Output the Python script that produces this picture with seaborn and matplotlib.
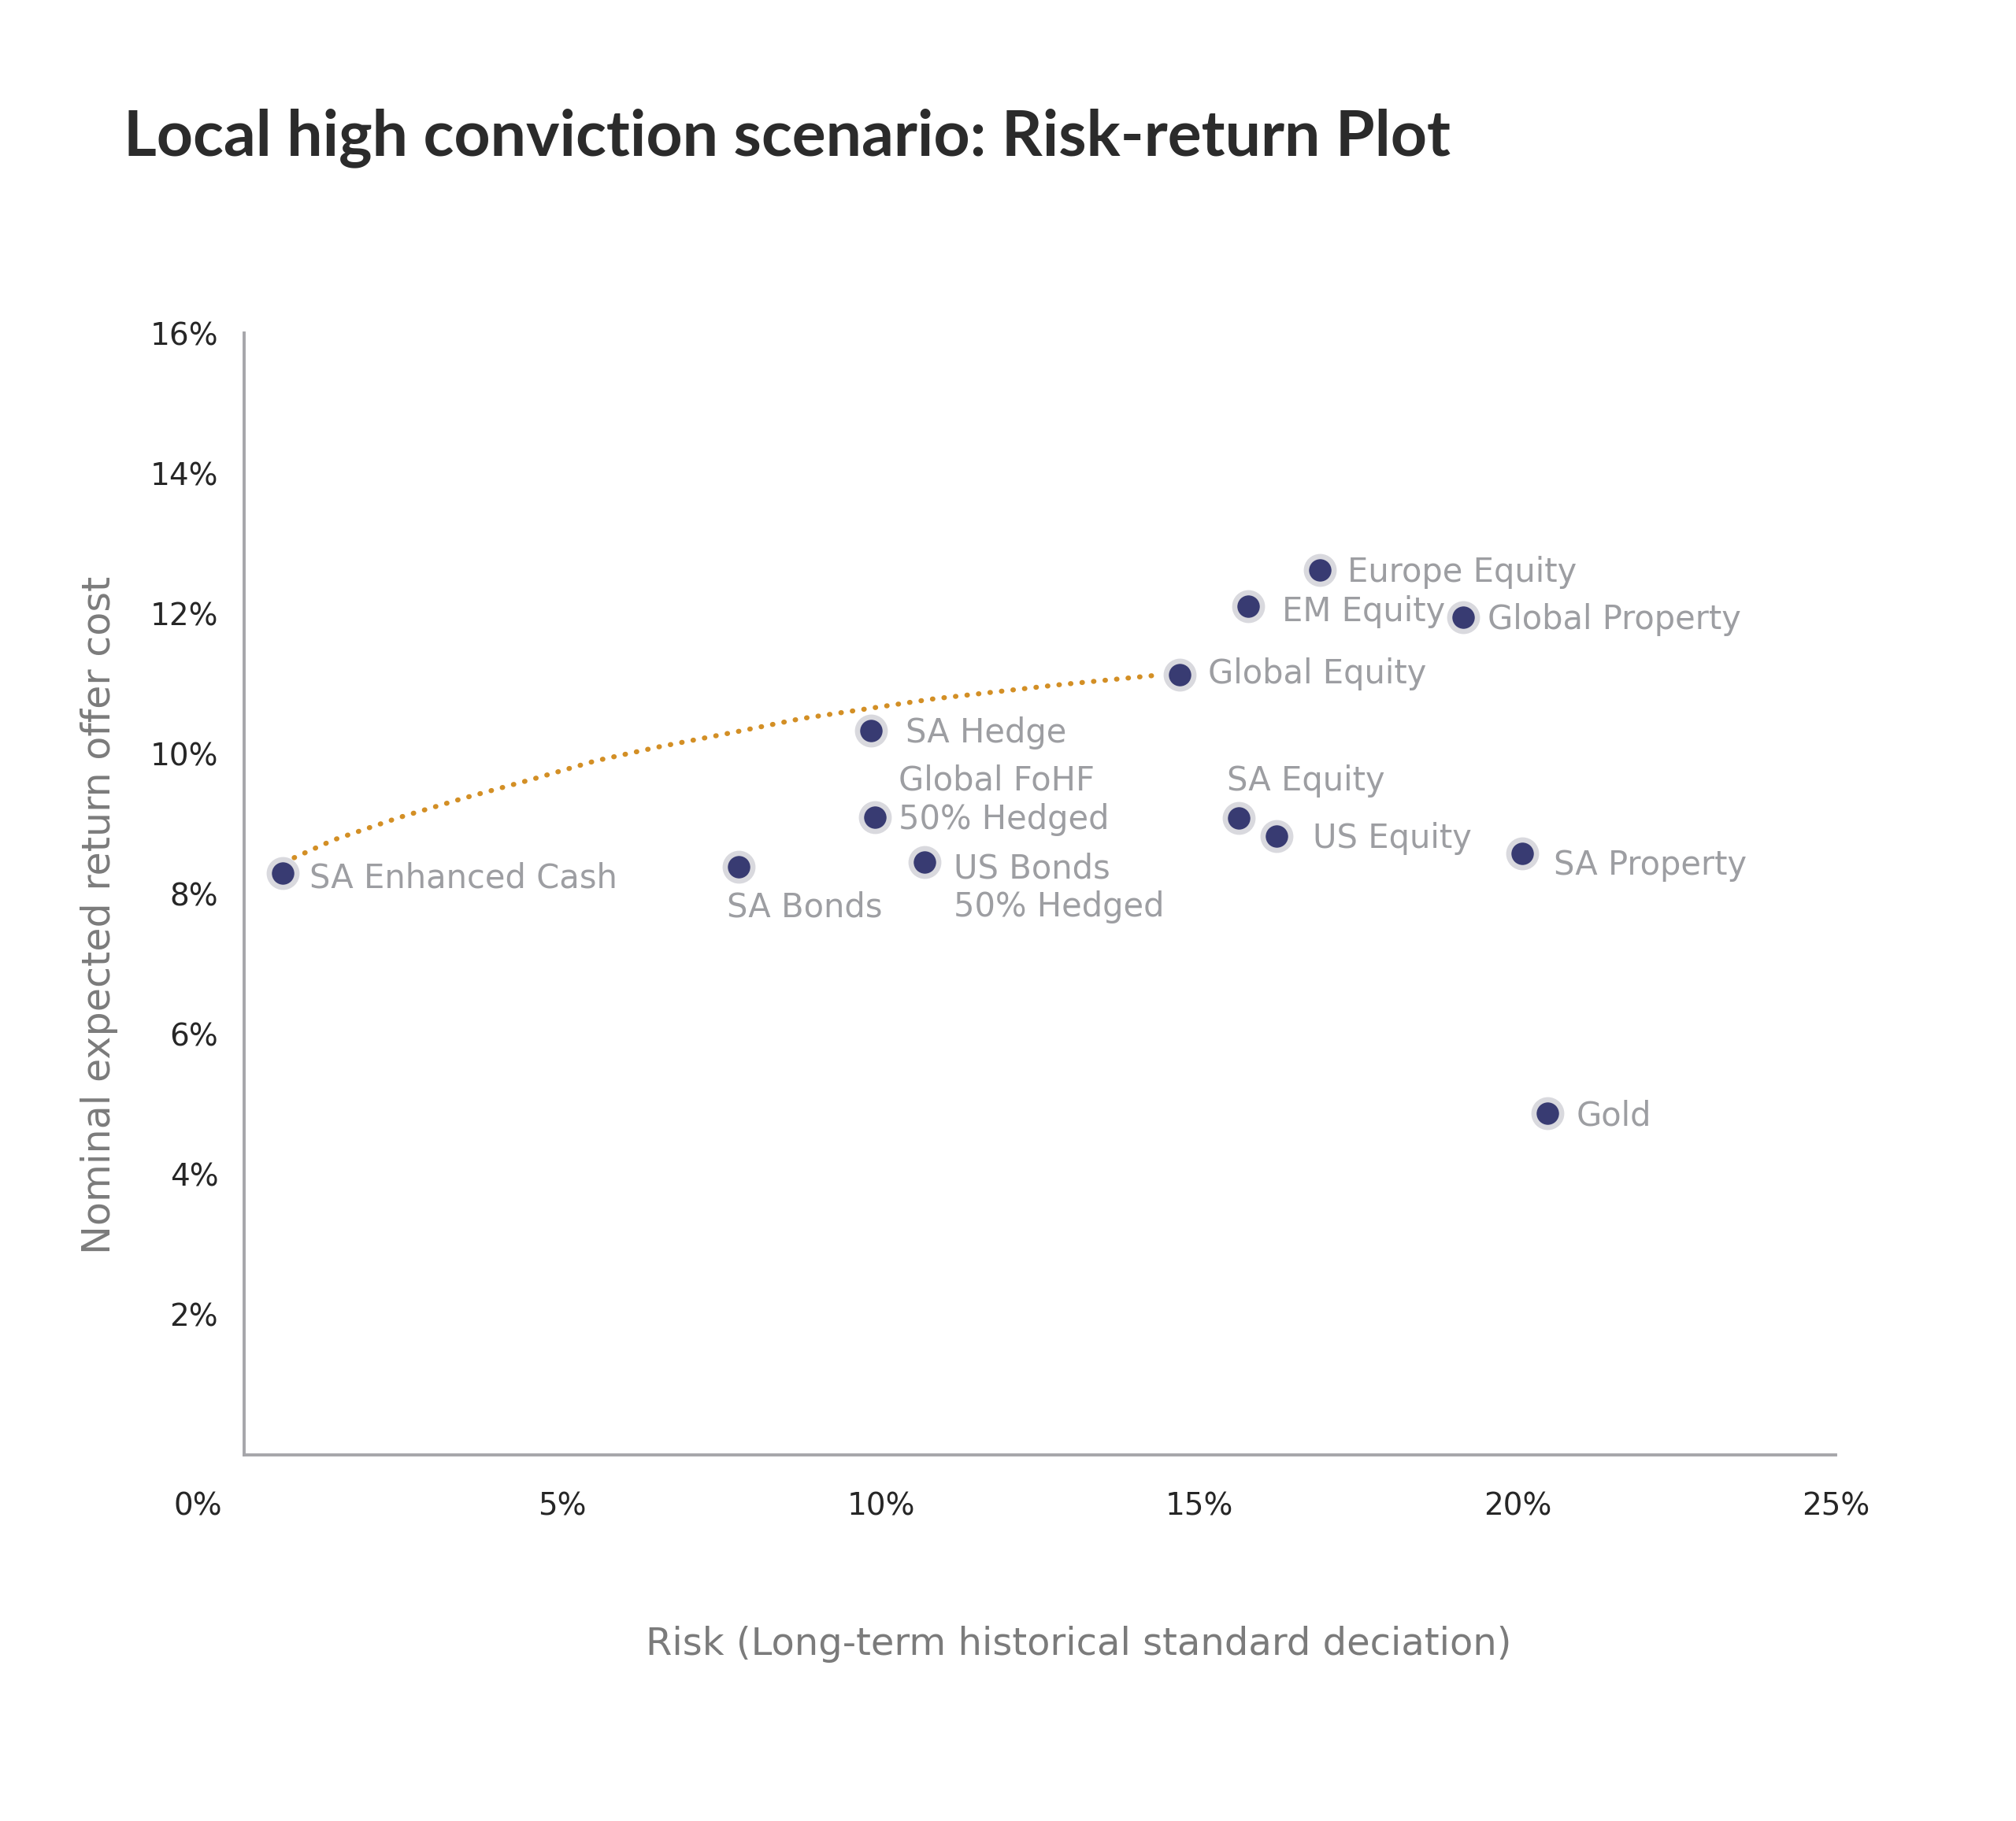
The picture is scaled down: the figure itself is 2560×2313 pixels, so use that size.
import matplotlib
matplotlib.use("Agg")
import matplotlib.pyplot as plt
import matplotlib.transforms as mtransforms
import seaborn as sns

# ─── data ────────────────────────────────────────────────────────────────────
assets = ["SA Enhanced Cash", "SA Bonds", "SA Hedge", "Global FoHF\n50% Hedged",
          "US Bonds\n50% Hedged", "Global Equity", "SA Equity", "US Equity",
          "EM Equity", "Europe Equity", "Global Property", "SA Property", "Gold"]
risk = [0.6, 7.77, 9.84, 9.91, 10.68, 14.69, 15.62, 16.22, 15.77, 16.9, 19.14, 20.07, 20.47]
ret = [8.3, 8.39, 10.33, 9.1, 8.45, 11.13, 9.08, 8.83, 12.1, 12.62, 11.95, 8.58, 4.87]

frontier_risk = [0.62, 1.40, 2.43, 3.46, 4.50, 5.52, 6.52, 7.71, 8.74, 9.77, 10.80, 11.87, 12.75, 14.33]
frontier_ret = [8.45, 8.77, 9.09, 9.37, 9.63, 9.90, 10.10, 10.31, 10.50, 10.64, 10.78, 10.89, 10.98, 11.12]

x_ticks = [0, 5, 10, 15, 20, 25]
y_ticks = [0, 2, 4, 6, 8, 10, 12, 14, 16]

# label offsets in points (dx, dy to baseline of last line)
label_offsets = [(12.3, -6.6), (-5.6, -22.8), (16.0, -5.4), (10.6, -5.4),
                 (13.5, -24.8), (12.9, -4.1), (-5.4, 12.6), (16.3, -5.4),
                 (15.6, -6.8), (12.6, -5.4), (11.2, -5.4), (14.6, -9.6), (13.0, -5.4)]

# ─── style ───────────────────────────────────────────────────────────────────
NAVY = "#383b72"
HALO = "#d9d9de"
GOLD = "#d38f25"
LABEL_GREY = "#9d9ea2"
AXIS_GREY = "#a6a6aa"

sns.set_theme(style="white")
plt.rcParams["font.family"] = ["DejaVu Sans"]

fig = plt.figure(figsize=(12.8, 11.565), dpi=200)
ax = fig.add_axes([0.1211, 0.2010, 0.7896, 0.6161])

sns.lineplot(x=frontier_risk, y=frontier_ret, ax=ax, color=GOLD, linewidth=2.3,
             linestyle=(0, (0.1, 2.2)), dash_capstyle="round", sort=False, zorder=2)
sns.scatterplot(x=risk, y=ret, ax=ax, s=160, color=NAVY, edgecolor=HALO,
                linewidth=2.4, zorder=3)

for name, x, y, (dx, dy) in zip(assets, risk, ret, label_offsets):
    ax.annotate(name, (x, y), xytext=(dx, dy), textcoords="offset points",
                ha="left", va="baseline", fontsize=15, color=LABEL_GREY,
                linespacing=1.2, zorder=4)

ax.set_xlim(0, 25)
ax.set_ylim(0, 16)
ax.set_xticks(x_ticks)
ax.set_xticklabels([f"{v}%" for v in x_ticks])
ax.set_yticks(y_ticks)
ax.set_yticklabels(["" if v == 0 else f"{v}%" for v in y_ticks])

for side in ["top", "right"]:
    ax.spines[side].set_visible(False)
for side in ["left", "bottom"]:
    ax.spines[side].set_color(AXIS_GREY)
    ax.spines[side].set_linewidth(1.4)

ax.tick_params(axis="both", which="major", direction="out", length=5.8, width=1.4,
               color=AXIS_GREY, labelsize=14, labelcolor="#262626")
ax.tick_params(axis="y", pad=6)
ax.tick_params(axis="x", pad=11)

# nudge the 0% label left, as in the original
lbl0 = ax.get_xticklabels()[0]
lbl0.set_transform(lbl0.get_transform() + mtransforms.ScaledTranslation(-21 / 72, 0, fig.dpi_scale_trans))

ax.set_xlabel("Risk (Long-term historical standard deciation)", fontsize=17.3, color="#7b7b7b")
ax.set_ylabel("Nominal expected return offer cost", fontsize=17.7, color="#7b7b7b")
ax.xaxis.set_label_coords(0.524, -0.152)
ax.yaxis.set_label_coords(-0.079, 0.481)

fig.text(157 / 2560, 1 - 197 / 2313, "Local high conviction scenario: Risk-return Plot",
         fontsize=29, fontweight="bold", color="#2b2b2b", ha="left", va="baseline",
         family=["Lato", "DejaVu Sans"])

fig.savefig("out.png", dpi=200, facecolor="white")
